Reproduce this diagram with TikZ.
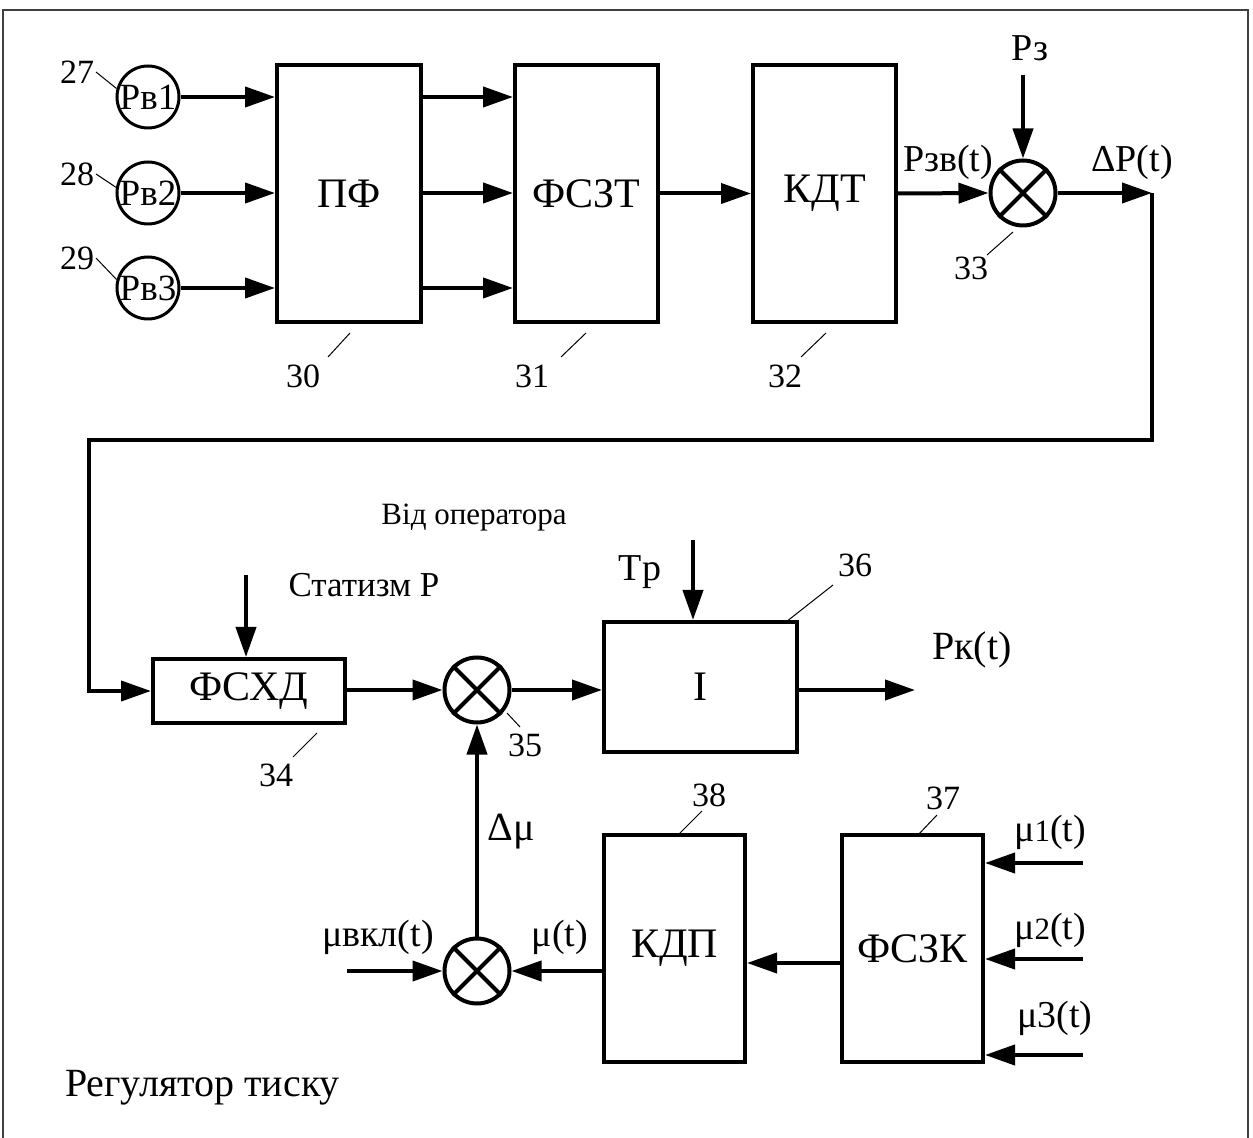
\documentclass[tikz,border=0pt]{standalone}
\usepackage{fontspec}
\setmainfont{Liberation Serif}
\usetikzlibrary{arrows.meta}
\begin{document}
\begin{tikzpicture}[x=0.5pt,y=-0.5pt,
  line width=2pt,
  blk/.style={draw, line width=2pt, inner sep=0pt, font=\fontsize{21}{24}\selectfont},
  src/.style={draw, circle, line width=1.5pt, inner sep=0pt, minimum size=31pt, font=\fontsize{18.5}{20}\selectfont},
  sumn/.style={draw, circle, line width=2pt, inner sep=0pt, minimum size=32.5pt},
  arr/.style={-{Triangle[length=15pt,width=10pt]}},
  sig/.style={font=\fontsize{19}{22}\selectfont, inner sep=0pt},
  bigsig/.style={font=\fontsize{20}{24}\selectfont, inner sep=0pt},
  smalltxt/.style={font=\fontsize{17.5}{20}\selectfont, inner sep=0pt},
  num/.style={font=\fontsize{17}{20}\selectfont, inner sep=0pt},
  lead/.style={line width=0.5pt},
  cross/.style={draw, line width=2pt}
]
\useasboundingbox (0,0) rectangle (1253,1138);
% outer frame
\draw[black!75, line width=0.6pt] (3,1138) -- (3,10) -- (1248,10) -- (1248,1138);

% ---------- top row ----------
\node[src] (c27) at (148,97) {Pв1};
\node[src] (c28) at (148,193) {Pв2};
\node[src] (c29) at (148,288) {Pв3};
\node[num] (n27) at (77,72) {27};
\node[num] (n28) at (77,174) {28};
\node[num] (n29) at (77,258) {29};
\draw[lead] (n27.east) -- (c27.165);
\draw[lead] (n28.east) -- (c28.170);
\draw[lead] (n29.east) -- (c29.165);

\node[blk, minimum width=72pt, minimum height=128.5pt] (pf) at (349,193.5) {ПФ};
\node[blk, minimum width=71.5pt, minimum height=128.5pt] (fszt) at (586.5,193.5) {ФСЗТ};
\node[blk, minimum width=71.5pt, minimum height=128.5pt] (kdt) at (824.5,193.5) {КДТ};

\draw[arr] (c27.east) -- (c27.east -| pf.west);
\draw[arr] (c28.east) -- (c28.east -| pf.west);
\draw[arr] (c29.east) -- (c29.east -| pf.west);
\draw[arr] (pf.east |- c27) -- (fszt.west |- c27);
\draw[arr] (pf.east |- c28) -- (fszt.west |- c28);
\draw[arr] (pf.east |- c29) -- (fszt.west |- c29);
\draw[arr] (fszt.east) -- (kdt.west);

\node[num] (n30) at (303,376) {30};
\node[num] (n31) at (532,376) {31};
\node[num] (n32) at (785,376) {32};
\draw[lead] (350,333) -- (328,357);
\draw[lead] (586,333) -- (561,357);
\draw[lead] (826,333) -- (801,357);

% summing junction 33
\node[sumn] (s33) at (1023,193) {};
\draw[cross] (s33.north west) -- (s33.south east) (s33.north east) -- (s33.south west);
\draw[arr] (kdt.east) -- (s33.west);
\coordinate (pzin) at (1023,75);
\node[sig] (pz) at (1030,48) {Pз};
\draw[arr] (pzin) -- (s33.north);
\node[sig] (pzv) at (948,162) {Pзв(t)};
\node[sig] (dp) at (1132,162) {ΔP(t)};
\coordinate (k1) at (1152,193);
\draw[arr] (s33.east) -- (k1);
\node[num] (n33) at (971,268) {33};
\draw[lead] (1013,232) -- (987,255);

% ---------- middle row ----------
\node[blk, minimum width=96pt, minimum height=32pt] (fsxd) at (249,691) {ФСХД};
\coordinate (k2) at (89,440);
\draw[arr] (k1) |- (k2) |- (fsxd.west);
\coordinate (stin) at (246,575);
\draw[arr] (stin) -- (stin |- fsxd.north);
\node[smalltxt] (stat) at (364,585) {Статизм P};
\node[font=\fontsize{15.5}{18}\selectfont, inner sep=0pt] (vid) at (474,518) {Від оператора};
\node[num] (n34) at (276,775) {34};
\draw[lead] (317,733) -- (293,757);

\node[sumn] (s35) at (477,690) {};
\draw[cross] (s35.north west) -- (s35.south east) (s35.north east) -- (s35.south west);
\draw[arr] (fsxd.east |- s35) -- (s35.west);
\node[num] (n35) at (525,745) {35};
\draw[lead] (507,713) -- (520,727);

\node[blk, minimum width=96.5pt, minimum height=65pt] (ib) at (700.5,687) {I};
\draw[arr] (s35.east) -- (s35.east -| ib.west);
\coordinate (tpin) at (693,540);
\draw[arr] (tpin) -- (tpin |- ib.north);
\node[sig] (tp) at (640,572) {Tр};
\node[num] (n36) at (855,565) {36};
\draw[lead] (786,622) -- (833,585);
\coordinate (pkout) at (915,690);
\draw[arr] (ib.east |- pkout) -- (pkout);
\node[bigsig] (pk) at (972,650) {Pк(t)};

% ---------- bottom row ----------
\node[sumn] (smu) at (477,971) {};
\draw[cross] (smu.north west) -- (smu.south east) (smu.north east) -- (smu.south west);
\draw[arr] (smu.north) -- (s35.south);
\node[bigsig] (dmu) at (511,832) {Δμ};
\coordinate (muin) at (347,971);
\draw[arr] (muin) -- (smu.west);
\node[sig] (muvkl) at (378,937) {μвкл(t)};
\node[sig] (mut) at (560,937) {μ(t)};

\node[blk, minimum width=70.5pt, minimum height=113.5pt] (kdp) at (674.5,948.5) {\raisebox{-5pt}{КДП}};
\node[blk, minimum width=70.5pt, minimum height=113.5pt] (fszk) at (912.5,948.5) {\raisebox{-2pt}{ФСЗК}};
\draw[arr] (kdp.west |- smu) -- (smu.east);
\draw[arr] (fszk.west |- 0,963) -- (kdp.east |- 0,963);
\node[num] (n38) at (709,795) {38};
\draw[lead] (678,835) -- (702,811);
\node[num] (n37) at (943,798) {37};
\draw[lead] (918,835) -- (937,815);

\coordinate (m1) at (1083,863);
\coordinate (m2) at (1083,959);
\coordinate (m3) at (1083,1055);
\draw[arr] (m1) -- (m1 -| fszk.east);
\draw[arr] (m2) -- (m2 -| fszk.east);
\draw[arr] (m3) -- (m3 -| fszk.east);
\node[sig] (mu1) at (1050,832) {μ{\fontsize{15.5}{18}\selectfont 1}(t)};
\node[sig] (mu2) at (1050,930) {μ{\fontsize{15.5}{18}\selectfont 2}(t)};
\node[sig] (mu3) at (1055,1018) {μ3(t)};

\node[font=\fontsize{20}{24}\selectfont, inner sep=0pt, anchor=west] (title) at (63,1088) {Регулятор тиску};
\end{tikzpicture}
\end{document}
